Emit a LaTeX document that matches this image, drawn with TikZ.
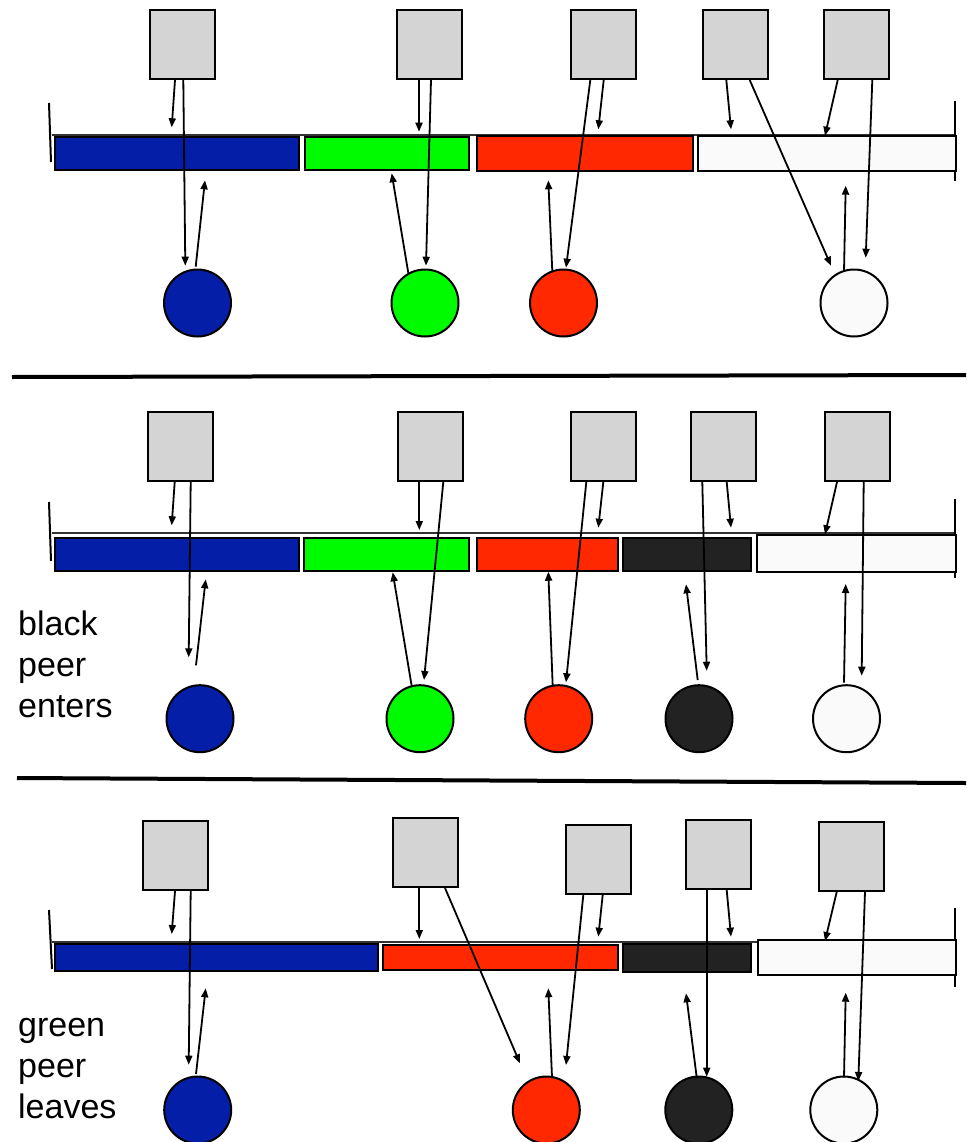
\documentclass[tikz,border=0pt]{standalone}
\usepackage{fontspec}
\setmainfont{Liberation Sans}
\usetikzlibrary{arrows.meta}
\definecolor{pblue}{RGB}{4,30,168}
\definecolor{pgreen}{RGB}{0,250,0}
\definecolor{pred}{RGB}{255,40,0}
\definecolor{pblack}{RGB}{34,34,34}
\definecolor{pwhite}{RGB}{250,250,250}
\definecolor{pgray}{RGB}{212,212,212}
\tikzset{
  sqbox/.style={draw=black, fill=pgray, line width=2pt, minimum width=65pt, minimum height=69pt, inner sep=0pt, anchor=north west},
  seg/.style={draw=black, line width=2pt, inner sep=0pt, anchor=north west},
  peer/.style={draw=black, circle, line width=2pt, minimum size=67pt, inner sep=0pt},
  arr/.style={line width=1.8pt, -{Triangle[length=9pt,width=7pt]}},
  track/.style={line width=1.6pt, draw=black!80},
  tick/.style={line width=2pt},
  divider/.style={line width=4pt},
  lbl/.style={anchor=base west, align=left, inner sep=0pt, font=\fontsize{34}{41}\selectfont}
}
\begin{document}
\begin{tikzpicture}[x=1pt,y=-1pt]
\useasboundingbox (0,0) rectangle (966,1142);

% ================= TOP PANEL =================
\draw[track] (52,135) -- (955,135);
\draw[tick] (49,103) -- (51,162);
\draw[tick] (955,101) -- (955,181);
\node[seg, fill=pblue,  minimum width=244pt, minimum height=33pt] (tb1) at (54,136) {};
\node[seg, fill=pgreen, minimum width=164pt, minimum height=33pt] (tb2) at (304,136) {};
\node[seg, fill=pred,   minimum width=216pt, minimum height=35pt] (tb3) at (476,135) {};
\node[seg, fill=pwhite, minimum width=258pt, minimum height=35pt] (tb4) at (697,135) {};

\node[sqbox] (ts1) at (149,9) {};
\node[sqbox] (ts2) at (396,9) {};
\node[sqbox] (ts3) at (570,9) {};
\node[sqbox] (ts4) at (702,9) {};
\node[sqbox] (ts5) at (823,9) {};

\node[peer, fill=pblue]  (tc1) at (197.5,303) {};
\node[peer, fill=pgreen] (tc2) at (425,303) {};
\node[peer, fill=pred]   (tc3) at (563.5,303) {};
\node[peer, fill=pwhite] (tc4) at (854,303) {};

\draw[arr] (175,0 |- ts1.south) -- (171.7,127.3);
\draw[arr] (183.3,0 |- ts1.south) -- (185.3,265.7);
\draw[arr] (195.7,266.7) -- (205,180.3);
\draw[arr] (419,0 |- ts2.south) -- (419,131.7);
\draw[arr] (431,0 |- ts2.south) -- (426,265.7);
\draw[arr] (408.3,273) -- (391.7,173.3);
\draw[arr] (590.3,0 |- ts3.south) -- (566,267.7);
\draw[arr] (603.7,0 |- ts3.south) -- (598.3,129.3);
\draw[arr] (552.3,271.7) -- (548.3,180.3);
\draw[arr] (726.3,0 |- ts4.south) -- (731,129.3);
\draw[arr] (749.7,0 |- ts4.south) -- (831,265.7);
\draw[arr] (837.7,0 |- ts5.south) -- (825,135.7);
\draw[arr] (872.3,0 |- ts5.south) -- (865.7,257.7);
\draw[arr] (844,271.3) -- (845.7,185.7);

\draw[divider] (12,377) -- (966,375);

% ================= MIDDLE PANEL =================
\draw[track] (52,533) -- (955,533);
\draw[tick] (49,502) -- (51,561);
\draw[tick] (955,499) -- (955,578);
\node[seg, fill=pblue,  minimum width=244pt, minimum height=33pt] (mb1) at (54,537) {};
\node[seg, fill=pgreen, minimum width=165pt, minimum height=33pt] (mb2) at (303,537) {};
\node[seg, fill=pred,   minimum width=141pt, minimum height=33pt] (mb3) at (476,537) {};
\node[seg, fill=pblack, minimum width=128pt, minimum height=33pt] (mb4) at (622,537) {};
\node[seg, fill=pwhite, minimum width=199pt, minimum height=37pt] (mb5) at (756,534) {};

\node[sqbox] (ms1) at (147,411) {};
\node[sqbox] (ms2) at (397,411) {};
\node[sqbox] (ms3) at (570,411) {};
\node[sqbox] (ms4) at (690,411) {};
\node[sqbox] (ms5) at (824,411) {};

\node[peer, fill=pblue]  (mc1) at (200,718.7) {};
\node[peer, fill=pgreen] (mc2) at (420,718.7) {};
\node[peer, fill=pred]   (mc3) at (558.7,718.7) {};
\node[peer, fill=pblack] (mc4) at (699,718.7) {};
\node[peer, fill=pwhite] (mc5) at (846.5,718.7) {};

\draw[arr] (174.7,0 |- ms1.south) -- (171.7,525.3);
\draw[arr] (190.7,0 |- ms1.south) -- (188.7,657.3);
\draw[arr] (196,665.3) -- (205.7,579.3);
\draw[arr] (419.3,0 |- ms2.south) -- (419.3,530);
\draw[arr] (443.3,0 |- ms2.south) -- (424,680);
\draw[arr] (411.7,686) -- (392.7,572.3);
\draw[arr] (586.3,0 |- ms3.south) -- (566,682.3);
\draw[arr] (603.3,0 |- ms3.south) -- (598.3,527.7);
\draw[arr] (552.7,686) -- (548.3,571.7);
\draw[arr] (702.3,0 |- ms4.south) -- (706.7,670.7);
\draw[arr] (726.7,0 |- ms4.south) -- (731,527.7);
\draw[arr] (697.7,680) -- (686,584.3);
\draw[arr] (837,0 |- ms5.south) -- (825,534.3);
\draw[arr] (863.7,0 |- ms5.south) -- (861.7,675.7);
\draw[arr] (844,682.7) -- (845.7,584);

\node[lbl] (mlabel) at (18,717) {black\\peer\\enters};

\draw[divider] (17,778) -- (966,783);

% ================= BOTTOM PANEL =================
\draw[track] (52,942) -- (955,942);
\draw[tick] (49,910) -- (52,969);
\draw[tick] (955,908) -- (955,987);
\node[seg, fill=pblue,  minimum width=323pt, minimum height=27pt] (bb1) at (54,943) {};
\node[seg, fill=pred,   minimum width=235pt, minimum height=25pt] (bb2) at (382,944) {};
\node[seg, fill=pblack, minimum width=128pt, minimum height=28pt] (bb3) at (622,943) {};
\node[seg, fill=pwhite, minimum width=198pt, minimum height=35pt] (bb4) at (757,939) {};

\node[sqbox] (bs1) at (142,820) {};
\node[sqbox] (bs2) at (392,817) {};
\node[sqbox] (bs3) at (565,824) {};
\node[sqbox] (bs4) at (685,819) {};
\node[sqbox] (bs5) at (818,821) {};

\node[peer, fill=pblue]  (bc1) at (197.7,1110) {};
\node[peer, fill=pred]   (bc2) at (546.3,1110) {};
\node[peer, fill=pblack] (bc3) at (698.8,1110) {};
\node[peer, fill=pwhite] (bc4) at (843.8,1110) {};

\draw[arr] (175,0 |- bs1.south) -- (171.7,934);
\draw[arr] (190.7,0 |- bs1.south) -- (188.7,1064.7);
\draw[arr] (196,1074) -- (205.7,988.3);
\draw[arr] (419.3,0 |- bs2.south) -- (419.3,939);
\draw[arr] (445,0 |- bs2.south) -- (520,1063.3);
\draw[arr] (583.3,0 |- bs3.south) -- (566,1065);
\draw[arr] (602.7,0 |- bs3.south) -- (598.3,936.7);
\draw[arr] (552,1077.3) -- (548.3,988.3);
\draw[arr] (706.7,0 |- bs4.south) -- (706.7,1076.7);
\draw[arr] (726.7,0 |- bs4.south) -- (731,936.7);
\draw[arr] (696.7,1077.3) -- (686,993.3);
\draw[arr] (836.7,0 |- bs5.south) -- (825,941);
\draw[arr] (865,0 |- bs5.south) -- (858.3,1081);
\draw[arr] (844,1077.3) -- (845.7,992.7);

\node[lbl] (blabel) at (18,1118) {green\\peer\\leaves};
\end{tikzpicture}
\end{document}
